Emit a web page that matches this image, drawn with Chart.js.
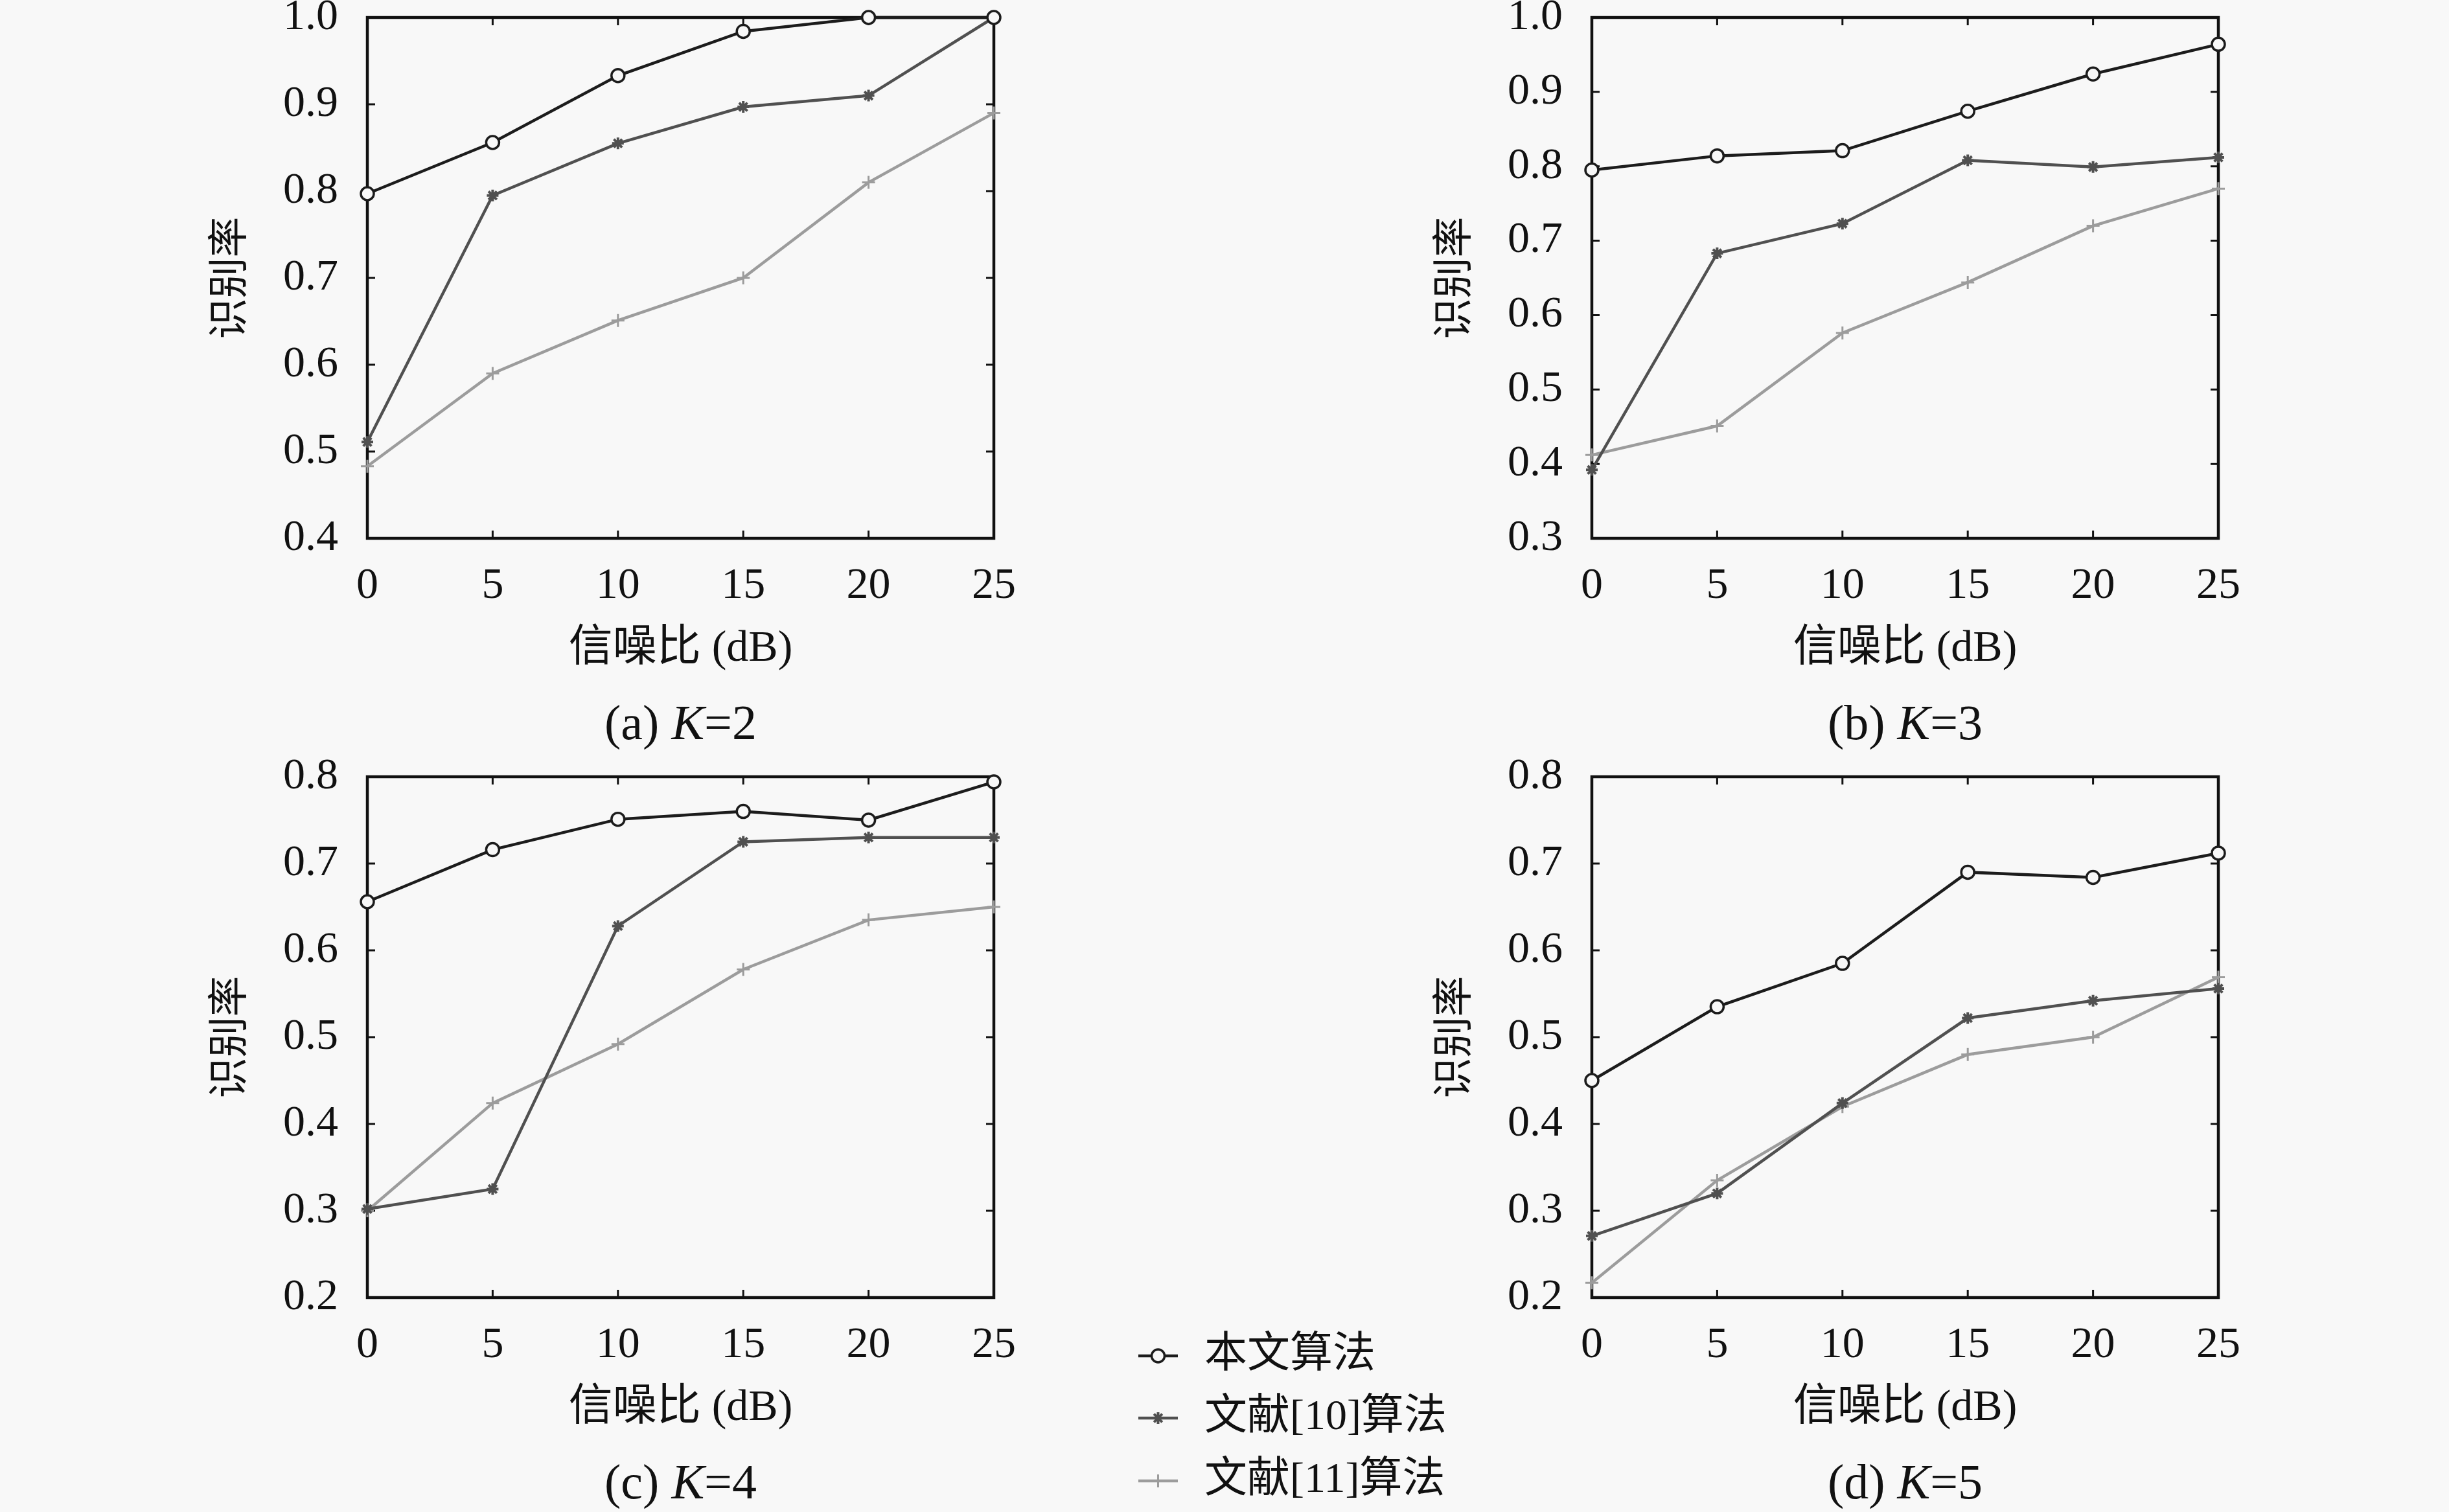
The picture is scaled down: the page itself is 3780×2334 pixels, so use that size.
<!DOCTYPE html>
<html>
<head>
<meta charset="utf-8">
<script src="https://cdn.jsdelivr.net/npm/chart.js@4.4.1/dist/chart.umd.min.js"></script>
<style>
  html, body { margin: 0; padding: 0; background: #f8f8f8; overflow: hidden; }
  body { width: 3780px; height: 2334px; position: relative; }
  canvas { position: absolute; }
</style>
</head>
<body>
<canvas id="chart-a" width="1400" height="1220" style="left:250px;top:-33px"></canvas>
<canvas id="chart-b" width="1400" height="1220" style="left:2140px;top:-33px"></canvas>
<canvas id="chart-c" width="2100" height="1220" style="left:250px;top:1139px"></canvas>
<canvas id="chart-d" width="1400" height="1220" style="left:2140px;top:1139px"></canvas>
<script>
// x axis: signal to noise ratio (dB)
const snrLabels = ['0', '5', '10', '15', '20', '25'];
const seriesNames = ['本文算法', '文献[10]算法', '文献[11]算法'];

// K=2
const oursK2 = [0.797, 0.856, 0.933, 0.984, 1.0, 1.0];
const ref10K2 = [0.511, 0.795, 0.855, 0.897, 0.910, 1.0];
const ref11K2 = [0.483, 0.590, 0.651, 0.700, 0.810, 0.890];

// K=3
const oursK3 = [0.795, 0.814, 0.821, 0.874, 0.924, 0.964];
const ref10K3 = [0.392, 0.683, 0.723, 0.808, 0.799, 0.812];
const ref11K3 = [0.412, 0.451, 0.576, 0.644, 0.720, 0.770];

// K=4
const oursK4 = [0.656, 0.716, 0.751, 0.760, 0.750, 0.794];
const ref10K4 = [0.302, 0.325, 0.628, 0.725, 0.730, 0.730];
const ref11K4 = [0.300, 0.424, 0.492, 0.578, 0.635, 0.650];

// K=5
const oursK5 = [0.450, 0.535, 0.585, 0.690, 0.684, 0.712];
const ref10K5 = [0.271, 0.320, 0.424, 0.522, 0.542, 0.556];
const ref11K5 = [0.217, 0.335, 0.420, 0.480, 0.500, 0.569];

// y axis ranges per panel
const yRanges = {
    a: [0.4, 1.0],
    b: [0.3, 1.0],
    c: [0.2, 0.8],
    d: [0.2, 0.8]
};

const BG = '#f8f8f8';
const SERIF = '"Liberation Serif", "Noto Sans CJK SC", serif';
const styles = [
    { color: '#1c1c1c', pointStyle: 'circle', radius: 10, pointBorderWidth: 3.5, bg: BG },
    { color: '#505050', pointStyle: 'star', radius: 9, pointBorderWidth: 4, bg: '#505050' },
    { color: '#9c9c9c', pointStyle: 'cross', radius: 10, pointBorderWidth: 3, bg: '#9c9c9c' }
];
const LINE_W = 4.5;

Chart.defaults.font.family = SERIF;
Chart.defaults.color = '#111';

// frame around the plot area with inward tick marks on all sides
const framePlugin = {
    id: 'frame',
    beforeDatasetsDraw(chart) {
        const { ctx, chartArea: a, scales: { x, y } } = chart;
        const tick = 12;
        ctx.save();
        ctx.strokeStyle = '#111';
        ctx.lineWidth = 3;
        ctx.beginPath();
        x.ticks.forEach((t, i) => {
            const px = x.getPixelForTick(i);
            ctx.moveTo(px, a.bottom); ctx.lineTo(px, a.bottom - tick);
            ctx.moveTo(px, a.top); ctx.lineTo(px, a.top + tick);
        });
        y.ticks.forEach(t => {
            const py = y.getPixelForValue(t.value);
            ctx.moveTo(a.left, py); ctx.lineTo(a.left + tick, py);
            ctx.moveTo(a.right, py); ctx.lineTo(a.right - tick, py);
        });
        ctx.stroke();
        ctx.lineWidth = 4.5;
        ctx.strokeRect(a.left, a.top, a.right - a.left, a.bottom - a.top);
        ctx.restore();
    }
};

// "(a) K=2" caption under each panel
const captionPlugin = {
    id: 'caption',
    afterDraw(chart, args, opts) {
        if (!opts.letter) return;
        const { ctx, chartArea: a } = chart;
        const size = 76;
        const parts = [
            { text: '(' + opts.letter + ') ', font: `${size}px ${SERIF}` },
            { text: 'K', font: `italic ${size}px ${SERIF}` },
            { text: '=' + opts.k, font: `${size}px ${SERIF}` }
        ];
        ctx.save();
        ctx.fillStyle = '#111';
        ctx.textBaseline = 'middle';
        let total = 0;
        parts.forEach(p => { ctx.font = p.font; p.w = ctx.measureText(p.text).width; total += p.w; });
        let cx = (a.left + a.right) / 2 - total / 2;
        const cy = a.bottom + 290;
        parts.forEach(p => { ctx.font = p.font; ctx.fillText(p.text, cx, cy); cx += p.w; });
        ctx.restore();
    }
};

// shared legend, drawn next to panel (c)
const legendPlugin = {
    id: 'sideLegend',
    afterDraw(chart, args, opts) {
        if (!opts.show) return;
        const { ctx, chartArea: a } = chart;
        const x0 = a.right + 223;
        const x1 = a.right + 284;
        const rows = [90, 186, 283];
        ctx.save();
        chart.data.datasets.forEach((ds, i) => {
            const st = styles[i];
            const y = a.bottom + rows[i];
            ctx.strokeStyle = st.color;
            ctx.lineWidth = LINE_W;
            ctx.beginPath();
            ctx.moveTo(x0, y); ctx.lineTo(x1, y);
            ctx.stroke();
            ctx.fillStyle = st.bg;
            ctx.lineWidth = st.pointBorderWidth;
            Chart.helpers.drawPoint(ctx, { pointStyle: st.pointStyle, radius: st.radius, borderWidth: st.pointBorderWidth, rotation: 0 }, (x0 + x1) / 2, y);
            ctx.fillStyle = '#111';
            ctx.font = `66px ${SERIF}`;
            ctx.textBaseline = 'middle';
            ctx.fillText(ds.label, a.right + 325, y);
        });
        ctx.restore();
    }
};

function makeDataset(i, values) {
    const st = styles[i];
    return {
        label: seriesNames[i],
        data: values,
        borderColor: st.color,
        backgroundColor: st.bg,
        borderWidth: LINE_W,
        pointStyle: st.pointStyle,
        pointRadius: st.radius,
        pointBorderWidth: st.pointBorderWidth,
        pointBorderColor: st.color,
        pointBackgroundColor: st.bg,
        tension: 0,
        clip: false
    };
}

function makeChart(id, key, k, ours, ref10, ref11, withLegend) {
    const canvas = document.getElementById(id);
    const W = canvas.width;
    const [ymin, ymax] = yRanges[key];
    return new Chart(canvas.getContext('2d'), {
        type: 'line',
        data: {
            labels: snrLabels,
            datasets: [makeDataset(0, ours), makeDataset(1, ref10), makeDataset(2, ref11)]
        },
        options: {
            responsive: false,
            animation: false,
            devicePixelRatio: 1,
            layout: { padding: { left: 0, top: 60, right: W - 1284, bottom: 0 } },
            plugins: {
                legend: { display: false },
                tooltip: { enabled: false },
                caption: { letter: key, k: k },
                sideLegend: { show: withLegend }
            },
            scales: {
                x: {
                    offset: false,
                    grid: { display: false, drawTicks: false },
                    border: { display: false },
                    ticks: { autoSkip: false, maxRotation: 0, padding: 33, font: { size: 68 }, color: '#111' },
                    title: {
                        display: true,
                        text: '信噪比 (dB)',
                        font: { size: 68, lineHeight: 1 },
                        padding: { top: 0, bottom: 151 },
                        color: '#111'
                    },
                    afterFit(scale) {
                        scale.height = 1220 - 864;
                        scale.paddingLeft = 0;
                        scale.paddingRight = 0;
                    }
                },
                y: {
                    min: ymin,
                    max: ymax,
                    grid: { display: false, drawTicks: false },
                    border: { display: false },
                    ticks: {
                        stepSize: 0.1,
                        padding: 45,
                        font: { size: 68 },
                        color: '#111',
                        callback: v => Number(v).toFixed(1)
                    },
                    title: {
                        display: true,
                        text: '识别率',
                        font: { size: 63, lineHeight: 1 },
                        padding: { top: 76, bottom: 0 },
                        color: '#111'
                    },
                    afterFit(scale) {
                        scale.width = 317;
                        scale.paddingTop = 0;
                        scale.paddingBottom = 0;
                    }
                }
            }
        },
        plugins: [framePlugin, captionPlugin, legendPlugin]
    });
}

makeChart('chart-a', 'a', 2, oursK2, ref10K2, ref11K2, false);
makeChart('chart-b', 'b', 3, oursK3, ref10K3, ref11K3, false);
makeChart('chart-c', 'c', 4, oursK4, ref10K4, ref11K4, true);
makeChart('chart-d', 'd', 5, oursK5, ref10K5, ref11K5, false);
</script>
</body>
</html>
